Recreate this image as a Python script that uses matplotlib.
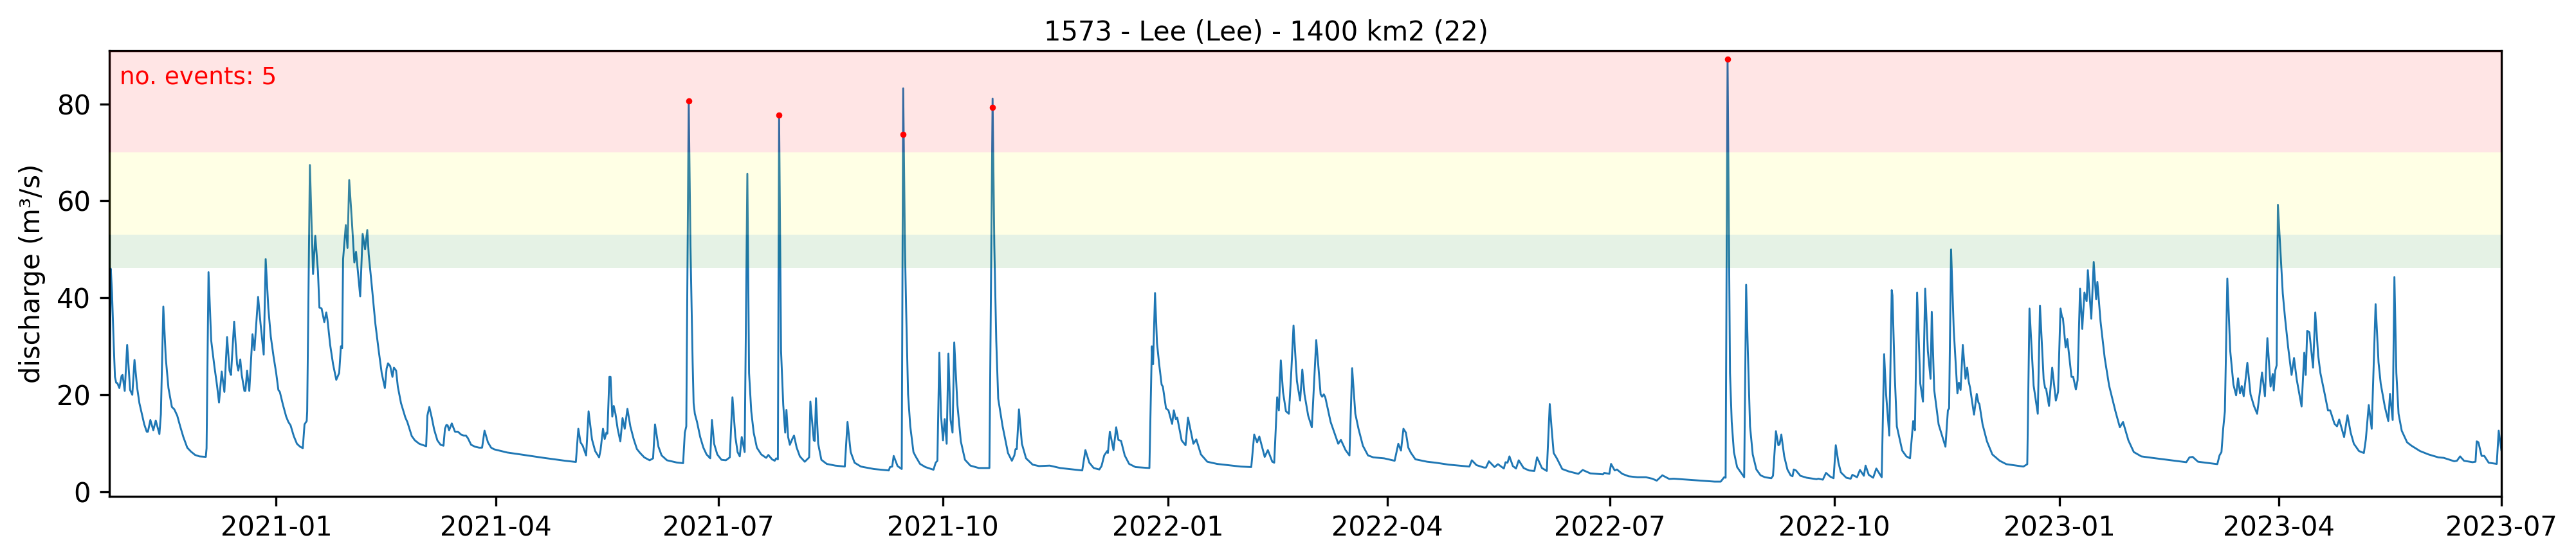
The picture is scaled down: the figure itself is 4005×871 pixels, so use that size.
import matplotlib
matplotlib.use("Agg")
import matplotlib.pyplot as plt
import matplotlib.dates as mdates
import numpy as np
import pandas as pd

TITLE = "1573 - Lee (Lee) - 1400 km2 (22)"
YLABEL = "discharge (m³/s)"
EVENT_TEXT = "no. events: 5"
BASE_DATE = "2021-01-01"

# Thresholds of the coloured bands (m3/s)
band_green = (46.2, 53.0)
band_yellow = (53.0, 70.0)
band_red = (70.0, 100.0)

# Discharge: days since BASE_DATE and m3/s
days_a = [-68.3,-67.7,-67.2,-66.5,-66,-65.5,-65,-64.2,-63.3,-62.9,-62,-61,-59.8,-58.9,-58,-56.9,-56,-55,-54,-53,-52.5,-51.5,-50.3,-49.3,-47.8,-47.2,-46.2,-45.2,-44.1,-42.7,-41.7,-40.5,-39.3,-38,-36.4,-34.9,-33.2,-31.4,-28.8,-28.5,-27.7,
          -26.6,-25.3,-24.2,-23.4,-22.3,-21.2,-20.1,-19.1,-18.5,-17.2,-16,-15.5,-14.7,-14.1,-13,-12.6,-11.9,-11,-9.7,-8.9,-7.4,-6.4,-5.1,-4.3,-3.2,-2.2,-1.1,0,0.9,1.5,2.8,4.1,5,5.9,7.2,8.5,9.8,10.9,11.6,12.5,12.7]
flow_a = [15,46,41,30.3,23.7,22.5,22.4,21.4,23.9,24.1,20.8,30.3,21,20,27.2,21.4,18.3,16.1,13.9,12.4,12.4,14.8,12.7,14.7,11.9,16,38.2,27.6,21.4,17.5,17,15.7,13.5,11.3,9.1,8.3,7.6,7.3,7.2,9,45.3,
          31.2,25.9,21.9,18.4,24.8,20.6,31.9,25,24.1,35.1,26.3,25,27.3,24.1,20.8,20.8,25,20.8,32.5,29.2,40.2,34.7,28.3,48,37.8,32,28,24.5,21,20.6,17.9,15.5,14.4,13.7,11.5,9.9,9.3,9,13.9,14.6,16.6]

days_b = [13.8,15.1,16,17.1,17.7,18.6,19.7,20.5,21,22.1,23.3,24.6,25.8,26.5,27,27.4,28.5,29.2,29.9,31,32,32.7,34.4,35.4,36.4,37.3,37.9,39.2,40.6,41.9,43.2,44.5,45.2,45.8,46.7,47.6,48.2,49.1,49.8,51.1,52.9,53.7,55.5,56.8,58.6,61.4,
          61.9,62.7,63.7,64.7,66,67.3,68.5,69.1,69.7,70.2,70.8,71.9,73.2,74.4,75.7,76.8,77.7,78.5,79.8,81.4,83.1,84.3,85.3,86.7,88,89.3,94.6,100.8,109.5,118.3,122.7]
flow_b = [67.4,44.9,52.8,45.5,38,37.8,35,37,35.5,30.3,26.3,23.1,24.5,30,29.6,48,55,50.3,64.3,55.8,47.3,49.5,40.3,53.2,50,54,48.9,42.2,34.7,29.4,24.5,21.4,25.4,26.5,25.9,23.7,25.6,25,21.7,18.3,15.3,14.4,11.5,10.6,9.9,9.4,
          15.7,17.5,15.3,12.8,10.6,9.7,9.5,13,13.8,13.7,12.7,14.1,12.4,12.4,11.8,11.6,11.6,11.05,9.7,9.3,9.1,9.1,12.6,10.2,9.1,8.75,8.1,7.65,7,6.4,6.15]

days_c = [123.7,124.6,125.5,126.9,127.9,129.3,130.6,132.2,132.8,133.8,134.5,135.2,135.6,136.4,136.9,137.6,138.2,138.9,139.8,140.9,141.8,142.7,143.8,145,146.4,147.7,149,150.7,152.9,154.3,155.1,156.5,157.8,160,163.9,166.6,167.3,167.9,168.9,169.6,170.5,170.9,171.4,172.3,173.6,174.9,176.2,177.7,178.4,179.3,180.6,182.3,184.1,185.7,
          186.8,188,188.9,189.8,190.6,191.8,192.9,193.6,194.5,195.5,196.8,198.6,200.6,201.5,203,204.1,204.7,205.4,205.9,206.7,207.6,208.4,208.9,209.6,210.3,211.3,212,213.1,214.4,216.4,218.2,218.7,220.1,220.5,221,221.9,223.2,225.4,228.9,232.8]
flow_c = [13,10.2,9.5,7.5,16.6,10.8,8.4,7.1,8.6,13,10.9,12.2,12,23.7,23.7,15.5,17.7,16.1,13,10.4,15.2,13,17.1,13.5,10.8,8.8,8,7.1,6.5,6.9,13.9,9.3,7.5,6.5,6.05,5.9,12.2,13.5,80.6,51,26.7,18.3,16.1,14.4,11.3,9.1,7.7,6.9,14.8,9.9,7.7,6.6,6.5,7.1,
          19.5,11.3,8.2,7.3,11.3,8.2,65.6,24.5,16.6,12.2,9.1,7.7,7,7.6,6.7,6.4,6.9,6.7,77.7,29,17.9,12.2,16.9,11.3,9.7,10.9,11.6,9.1,7.3,6.2,7.1,18.6,10.6,10.5,19.3,9.9,6.6,5.75,5.4,5.2]

days_d = [233.9,235.2,236.8,239.4,244.7,250.8,251.3,252.2,252.8,254.4,256.1,256.7,257.4,257.9,258.7,259.6,260.9,261.8,263.6,265.8,269.1,270,270.7,271.5,272.2,273,273.7,274.5,275.2,276.1,276.9,277.6,278.9,280.3,282,284.2,287.7,292,293.3,294,294.8,295.6,297.4,299.6,301.2,302.2,302.7,303.2,304.1,305.3,307,309.7,312.3,316.7,321,
          330,331.3,332.9,334.7,337,337.9,339,340.2,340.5,341.3,342.8,343.9,344.8,345.9,347.4,349.2,351.8,357.5,358.5,359,359.8,360.6,361.5,362.5,363,364.3,365.3,366.8,367.5,368.3,368.9,370.7,372.3,373.3,375.5,376.7,378.6,381.2,385.2,394.9,399.2]
flow_d = [14.4,8.2,6,5.2,4.7,4.4,5.1,5.2,7.4,5.3,4.7,83.2,51,37.8,20.1,13.5,8.2,7.3,5.75,5.1,4.55,6,6.4,28.7,15.7,10.6,15,9.9,28.5,14.8,12.2,30.8,17.9,10.4,6.6,5.4,4.9,4.9,81.1,51,31.2,19.2,13.5,8,6.4,7.5,8.8,8.8,17,9.9,6.9,5.6,5.3,5.4,4.9,
          4.4,8.6,6,4.9,4.6,5.3,7.5,8.4,8,12.4,8.6,13.3,10.7,10.5,7.5,5.75,5.1,4.9,30,26.3,41,30.7,26.3,22.1,21.7,17.2,16.8,14,16.8,15,15.3,10.6,9.6,15.3,9.9,10.8,7.7,6.2,5.75,5.2,5.1]

days_e = [400.4,401.6,402.5,404.7,406,407.8,408.6,409.8,410.5,411.3,412.2,413.4,414.6,415.5,416.5,417.9,419.2,420.1,421,422.5,424,425.8,427.6,428.2,428.9,429.5,431.7,434.8,435.9,437.8,439.4,440.5,441.8,443.1,444.9,447,449.2,453.6,457.9,459.4,460.5,461.5,462.5,463.5,464.6,466.4,471.2,474.7,480,484.4,488.5,489.5,491.4,494.5,495.3,496.5,498.8,500.2,502.6,503.3,504.1,504.9,506.3,507.6,508.7,510.7,512.9,515.1,516.2,518.2,520.2,521.4,522.1,523,524.3,526.5,529.2,533.1,534.9,538,543.2,543.7,545.8,546.5,548,548.9,551.1,553.7,557.3,560.8,563.4,565.2,567.5,570.3,572.2,583.6,588.9,591.4,592.8,593.4]
flow_e = [11.8,10.2,11.4,7.2,8.6,6.2,6,19.5,16.8,27.1,20.6,16.6,16.1,23.9,34.3,22.8,18.8,25.2,20.1,15.7,13.3,31.3,20.1,19.6,20.1,19.5,14.4,9.9,10.7,8.6,7.5,25.5,16.1,13,9.5,7.5,7.1,6.9,6.4,9.9,8.5,13,12.2,9.1,8,6.7,6.2,6,5.6,5.4,5.2,6.5,5.5,5,5,6.3,5.1,5.7,4.8,6.1,6,7.3,5.3,4.8,6.5,4.9,4.4,4.3,7.1,4.9,4.3,18.1,13.5,8,6.9,4.7,4.2,3.7,4.5,3.8,3.6,3.9,3.7,5.75,4.4,4.6,3.7,3.2,3,3,2.7,2.3,3.4,2.65,2.7,2.3,2.1,2.1,3,2.9]

days_f = [594.2,594.8,595.2,595.9,596.8,598.1,599.9,601,601.8,602.5,603.4,604.5,606,607.7,609.5,612.1,612.8,614,615,615.5,616.2,617.4,618.7,620,620.8,621.3,622.2,624,626.6,630.6,631.4,633.2,634.5,636.3,637.6,638.5,639.6,640.6,642.8,644.6,645.3,647.2,648.4,650,650.7,652,653.8,655.1,657.3,658.3,659.1,660.4,661.4,661.7,662.6,663.5,665.7,667.4,668.9,670.2,670.9,671.8,673.1,674.2,675.1,676.2,677.3,677.8,678.8,680.6,683.4,684.4,684.9,685.7,686.8,688.3,688.9,689.6,690.5,691.6,692.3,692.9,693.5,695.1,696.2,696.9,697.3,698.6,700.4,702.6,705.6,708.3,715.3,716.9]
flow_f = [89.2,51,24.5,14.4,8.2,5.1,3.8,3,42.7,29,13.5,7.7,4.6,3.4,3,2.8,3.3,12.5,9.6,9.8,11.8,7.3,4.6,3.4,3.2,4.6,4.4,3.3,2.9,2.6,2.7,2.5,3.9,3.1,2.8,9.6,6,4,2.9,2.7,3.5,3,4.5,3.3,5.4,3.5,2.9,4.8,3,28.4,20.1,11.6,41.6,40.5,24.5,13.5,8.5,7.3,6.9,14.6,12.7,41.1,22.3,18.6,41.9,29,23.3,37.1,21,13.9,9.3,16.8,17.2,50,33.4,20.3,22.5,21,30.3,23.3,25.6,22.8,21.4,15.9,20.2,18.4,18.1,13.9,10.4,7.7,6.4,5.7,5.2,5.7]

days_g = [717.8,719.5,721.2,722.1,723.6,724.2,724.6,725.8,727.1,728.6,729.5,730.5,731.1,731.5,732.6,733.3,735,735.7,736.8,737.5,738.5,739.4,740.3,741.2,741.7,743.1,744.1,745.1,745.6,746.9,748.6,750.4,753,754.8,756.1,758.3,760.5,763.6,768,782,783.3,784.6,786.8,794.7,795.6,796.4,797.1,797.8,798.8,800,801.3,802.4,803.2,804,804.7,805.5,807,808.3,809.7,811,812,813,814.2,815.2,816.5,817.4,817.8,818.4,819,819.5,821.5,822.4,823.7,825.1,826.1,827.2,829.2,829.9,830.3,830.9,831.5,832.4,833.9,834.8,836,836.9,838.7,840,840.9,842.7,843.7,844.6,846.6,848,849.3,850.6,852.7,854.7,855.5,856.7,857.9,859.5,860.7,861.6,863.3,864.7,865.4,866.5,867.2,868,868.9,870.2,872.4,874.2,877.7,881.2,885.2,887.4,891.7,892.8,894.1,895.7,899.2,900.4,900.9,901.6,902.9,904,905.8,909.1,909.9,911]
flow_g = [37.8,21.9,16.1,38.4,23.2,21.4,21.3,17.7,25.6,18.8,20.6,37.8,36.1,35.8,29.8,31.5,23.7,23.7,21.1,23,41.9,33.6,41.1,39.3,45.7,35.7,47.4,39.7,43.3,35.1,27.6,21.9,16.6,13.3,14.4,10.6,8.2,7.3,7,6.1,7.1,7.2,6.2,5.7,7.5,8.2,13,16.6,44,29,22.1,19.9,23.4,20.3,21.8,19.7,26.6,20.1,17.7,16.1,20.1,24.6,19.7,31.7,21.7,24.3,20.9,25,26.1,59.2,40.9,36,29.8,24.1,27.6,23.2,17.6,24.5,28.7,24.1,33.2,32.9,25.6,37,28.1,24.5,20.1,16.8,16.8,14,13.5,14.9,11.3,15.8,12.2,9.9,8.4,8,10.8,17.9,13,38.7,26.7,22.3,17.5,14.6,20.2,14.8,44.3,24.5,16.1,12.6,10.2,9.5,8.4,7.7,7.1,7,6.3,6.4,7.3,6.4,6.1,6.2,10.4,10.2,7.4,7.4,6,5.75,12.6,8.6]

# Flagged events
event_days = [168.9, 205.9, 256.7, 293.3, 594.2]
event_flow = [80.6, 77.7, 73.7, 79.3, 89.2]

tick_months = ["2021-01","2021-04","2021-07","2021-10","2022-01","2022-04","2022-07","2022-10","2023-01","2023-04","2023-07"]

days = np.array(days_a + days_b + days_c + days_d + days_e + days_f + days_g)
flow = np.array(flow_a + flow_b + flow_c + flow_d + flow_e + flow_f + flow_g)

base = pd.Timestamp(BASE_DATE)
dates = base + pd.to_timedelta(days, unit="D")
event_dates = base + pd.to_timedelta(np.array(event_days), unit="D")

W, H = 4005, 871
fig = plt.figure(figsize=(W / 300, H / 300), dpi=300)
L, R, T, B = 170, 3889, 79.4, 771.7
ax = fig.add_axes([L / W, 1 - B / H, (R - L) / W, (B - T) / H])

ax.plot(dates, flow, color="tab:blue", lw=0.7, zorder=2)
ax.axhspan(*band_green, color="green", alpha=0.1, lw=0, zorder=3)
ax.axhspan(*band_yellow, color="yellow", alpha=0.1, lw=0, zorder=3)
ax.axhspan(*band_red, color="red", alpha=0.1, lw=0, zorder=3)
ax.scatter(event_dates, event_flow, s=4, color="red", zorder=4, linewidths=0.3)

ax.set_xlim(dates[0], pd.Timestamp("2023-07-01"))
ax.set_ylim(-0.9, 90.9)
ax.set_xticks(pd.to_datetime(tick_months))
ax.xaxis.set_major_formatter(mdates.DateFormatter("%Y-%m"))
ax.set_yticks([0, 20, 40, 60, 80])
ax.set_ylabel(YLABEL)
ax.set_title(TITLE, fontsize=10, x=0.4837, pad=4)
ax.text(0.0043, 0.940, EVENT_TEXT, color="red", fontsize=9, transform=ax.transAxes, va="center", ha="left", zorder=5)

fig.savefig("out.png", dpi=300)
